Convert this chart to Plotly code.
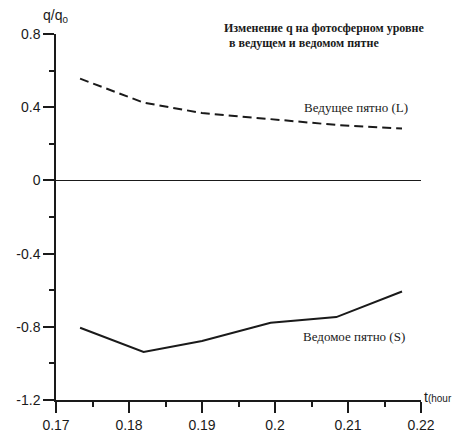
import plotly.graph_objects as go

# Time (hours) and normalised q for the leading (L) and following (S) spots
t_hour = [0.1733, 0.1820, 0.1900, 0.1994, 0.2084, 0.2174]
q_leading = [0.556, 0.425, 0.368, 0.333, 0.303, 0.283]
q_following = [-0.805, -0.938, -0.878, -0.778, -0.747, -0.607]

x_ticks = [0.17, 0.18, 0.19, 0.20, 0.21, 0.22]
x_tick_text = ["0.17", "0.18", "0.19", "0.2", "0.21", "0.22"]
y_ticks = [0.8, 0.4, 0.0, -0.4, -0.8, -1.2]
y_tick_text = ["0.8", "0.4", "0", "-0.4", "-0.8", "-1.2"]

INK = "#1a1a1a"
SANS = "Liberation Sans"
SERIF = "Liberation Serif"

fig = go.Figure()

fig.add_trace(go.Scatter(
    x=t_hour, y=q_leading, mode="lines",
    line=dict(color=INK, width=2, dash="9px,5px"),
    showlegend=False, hoverinfo="skip",
))
fig.add_trace(go.Scatter(
    x=t_hour, y=q_following, mode="lines",
    line=dict(color=INK, width=2),
    showlegend=False, hoverinfo="skip",
))

axis_common = dict(
    showline=True, linecolor=INK, linewidth=1.5, mirror=False,
    showgrid=False, ticks="outside", ticklen=11, tickwidth=1.5,
    tickcolor=INK, tickfont=dict(family=SANS, size=14, color=INK),
    minor=dict(ticks="outside", ticklen=5, tickwidth=1.5, tickcolor=INK),
    automargin=False,
)

fig.update_xaxes(
    range=[0.17, 0.22], tickvals=x_ticks, ticktext=x_tick_text,
    zeroline=False, **axis_common,
)
fig.update_xaxes(minor_dtick=0.005, minor_tick0=0.17)
fig.update_yaxes(
    range=[-1.2, 0.8], tickvals=y_ticks, ticktext=y_tick_text,
    zeroline=True, zerolinecolor=INK, zerolinewidth=1, **axis_common,
)
fig.update_yaxes(minor_dtick=0.2, minor_tick0=0.0)

annotations = [
    dict(text="<b>Изменение q на фотосферном уровне</b>",
         x=222, y=28, font=dict(family=SERIF, size=12, color=INK)),
    dict(text="<b> в ведущем и ведомом пятне</b>",
         x=224, y=43, font=dict(family=SERIF, size=12, color=INK)),
    dict(text="Ведущее пятно (L)",
         x=302, y=107, font=dict(family=SERIF, size=13, color=INK)),
    dict(text="Ведомое пятно (S)",
         x=301, y=336, font=dict(family=SERIF, size=13, color=INK)),
    dict(text="q/q<sub>0</sub>",
         x=41, y=16, font=dict(family=SANS, size=14, color=INK)),
    dict(text="t<span style='font-size:10px'>(hour</span>",
         x=422, y=397, font=dict(family=SANS, size=14, color=INK)),
]
W, H = 457, 434
L_M, R_M, T_M, B_M = 56, 36, 34, 34
for a in annotations:
    fig.add_annotation(
        text=a["text"], font=a["font"], showarrow=False,
        xref="paper", yref="paper",
        x=(a["x"] - L_M) / (W - L_M - R_M),
        y=1 - (a["y"] - T_M) / (H - T_M - B_M),
        xanchor="left", yanchor="middle", align="left",
    )

fig.update_layout(
    width=W, height=H,
    margin=dict(l=L_M, r=R_M, t=T_M, b=B_M),
    paper_bgcolor="white", plot_bgcolor="white",
)

fig.write_html("out.html")
